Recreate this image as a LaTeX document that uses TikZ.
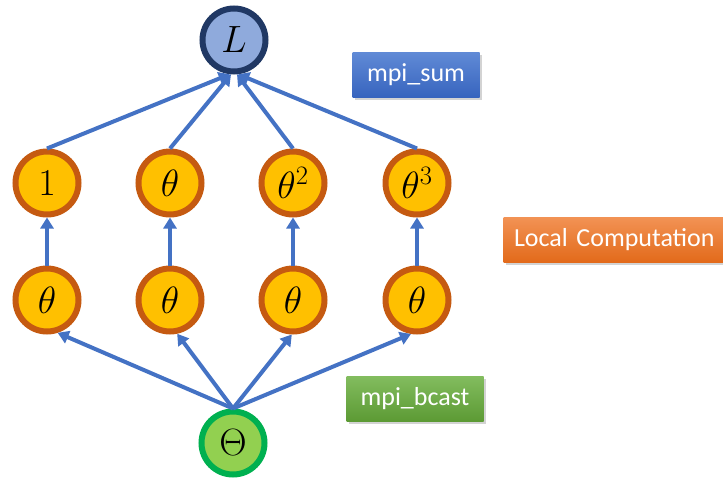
\RequirePackage{fix-cm}
\documentclass[tikz,border=0pt]{standalone}
\usepackage{amsmath}
\usepackage{fontspec}
\setmainfont{Carlito}
\usetikzlibrary{arrows.meta,shadows}
\definecolor{lnavy}{HTML}{203864}
\definecolor{lblue}{HTML}{8FAADC}
\definecolor{rust}{HTML}{C55A11}
\definecolor{gold}{HTML}{FFC000}
\definecolor{dgreen}{HTML}{00B050}
\definecolor{lgreen}{HTML}{92D050}
\definecolor{arrowblue}{HTML}{4472C4}
\tikzstyle{var}=[circle, line width=6pt, minimum size=63pt, inner sep=0pt, font=\fontsize{38}{42}\selectfont]
\tikzstyle{local}=[var, draw=rust, fill=gold]
\tikzstyle{tag}=[rectangle, text=white, minimum height=45pt, inner sep=0pt, font=\fontsize{26}{30}\selectfont, drop shadow={opacity=0.35, shadow xshift=2pt, shadow yshift=-2pt}]
\tikzstyle{flow}=[line width=4pt, draw=arrowblue, -{Triangle[length=11pt,width=13pt]}]

\begin{document}
\begin{tikzpicture}[x=1pt, y=-1pt]
    \useasboundingbox (0, 0) rectangle (723, 477);
    \node[var, draw=lnavy, fill=lblue] (L) at (234, 40) {$L$};
    \node[local] (a1) at (47, 183) {$1$};
    \node[local] (a2) at (170, 183) {$\theta$};
    \node[local] (a3) at (293, 183) {$\theta^2$};
    \node[local] (a4) at (417, 183) {$\theta^3$};
    \node[local] (b1) at (47, 300) {$\theta$};
    \node[local] (b2) at (170, 300) {$\theta$};
    \node[local] (b3) at (293, 300) {$\theta$};
    \node[local] (b4) at (417, 300) {$\theta$};
    \node[var, draw=dgreen, fill=lgreen] (t) at (233, 443) {$\Theta$};
    % labels
    \node[tag, top color={rgb,255:red,96;green,138;blue,214}, bottom color={rgb,255:red,55;green,100;blue,190}, minimum width=127pt] (sum) at (416, 75) {mpi\_sum};
    \node[tag, top color={rgb,255:red,242;green,146;blue,84}, bottom color={rgb,255:red,226;green,106;blue,26}, minimum width=227pt, text width=206pt, align=left] (comp) at (617, 240) {Local Computation};
    \node[tag, top color={rgb,255:red,130;green,188;blue,94}, bottom color={rgb,255:red,92;green,154;blue,52}, minimum width=137pt] (bcast) at (415, 399) {mpi\_bcast};
    \draw[flow] (a1.north) -- (L.-97);
    \draw[flow] (a2.north) -- (L.-95);
    \draw[flow] (a3.north) -- (L.-85);
    \draw[flow] (a4.north) -- (L.-83);
    \draw[flow] (b1) -- (a1);
    \draw[flow] (b2) -- (a2);
    \draw[flow] (b3) -- (a3);
    \draw[flow] (b4) -- (a4);
    \draw[flow] (t.north) -- (b1.-72);
    \draw[flow] (t.north) -- (b2.-78);
    \draw[flow] (t.north) -- (b3.-92);
    \draw[flow] (t.north) -- (b4.-100);
\end{tikzpicture}
\end{document}
